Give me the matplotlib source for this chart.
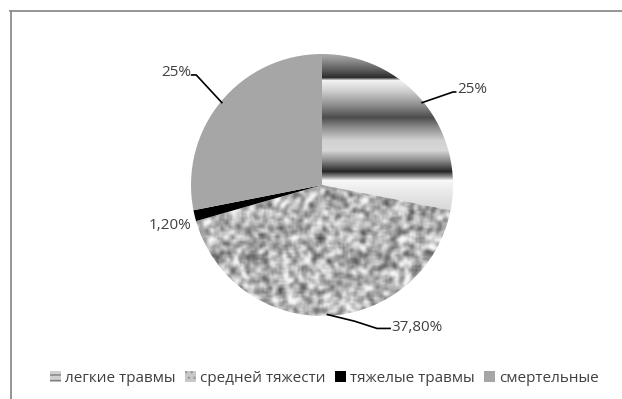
import matplotlib
matplotlib.use("Agg")
import matplotlib.pyplot as plt
import numpy as np
from matplotlib.patches import Patch
from matplotlib.lines import Line2D

# data
categories = ["легкие травмы", "средней тяжести", "тяжелые травмы", "смертельные"]
values = [25.0, 37.8, 1.2, 25.0]
value_labels = ["25%", "37,80%", "1,20%", "25%"]

plt.rcParams["font.family"] = ["Open Sans", "DejaVu Sans"]
TXT = "#404040"
FS = 11

W, H = 622, 399
fig = plt.figure(figsize=(W / 100, H / 100), dpi=100)

# chart frame (only top / left visible in the crop)
fig.add_artist(Line2D([10.5 / W, 10.5 / W], [0, 1 - 10.5 / H], transform=fig.transFigure,
                      color="#8c8c8c", lw=1.3))
fig.add_artist(Line2D([10 / W, 1], [1 - 10.5 / H, 1 - 10.5 / H], transform=fig.transFigure,
                      color="#8c8c8c", lw=1.3))

cx, cy, r = 322, 185, 131
ax = fig.add_axes([(cx - r) / W, (H - cy - r) / H, 2 * r / W, 2 * r / H])
ax.set_axis_off()

wedges, _ = ax.pie(values, startangle=90, counterclock=False, radius=1.0,
                   colors=["none", "none", "#000000", "#a6a6a6"],
                   wedgeprops=dict(linewidth=0))

# metallic horizontal stripes for first slice (pixel rows from top of image)
ypx = np.array([50, 58, 70, 77, 80, 90, 105, 117, 127, 140, 150, 160, 171, 176, 180, 195, 215])
gv = np.array([0.72, 0.60, 0.35, 0.18, 0.95, 0.82, 0.55, 0.30, 0.55, 0.82, 0.84, 0.55, 0.15, 0.55, 0.97, 0.90, 0.82])
rows = np.arange(cy - r, cy + r)
prof = np.interp(rows, ypx, gv)
stripe = np.tile(prof[:, None], (1, 2 * r))
im0 = ax.imshow(stripe, cmap="gray", vmin=0, vmax=1, extent=[-1, 1, -1, 1],
                origin="upper", aspect="auto", interpolation="bilinear")
im0.set_clip_path(wedges[0])

# granite texture for second slice
rng = np.random.default_rng(3)
n = 140
noise = rng.random((n, n))
sm = noise.copy()
for dx in (-1, 0, 1):
    for dy in (-1, 0, 1):
        if dx or dy:
            sm += np.roll(np.roll(noise, dx, 0), dy, 1)
sm /= 9
sm = (sm - sm.mean()) / sm.std()
granite = np.clip(0.70 + 0.14 * sm, 0.25, 0.97)
im1 = ax.imshow(granite, cmap="gray", vmin=0, vmax=1, extent=[-1, 1, -1, 1],
                aspect="auto", interpolation="bicubic")
im1.set_clip_path(wedges[1])

ax.set_xlim(-1, 1)
ax.set_ylim(-1, 1)

# value labels
def mid(w):
    return np.deg2rad((w.theta1 + w.theta2) / 2)

a = mid(wedges[0])
p = (np.cos(a) * 0.99, np.sin(a) * 0.99)
ax.plot([p[0], 1.0, 1.02], [p[1], 0.71, 0.71], color="black", lw=1.2, clip_on=False)
ax.text(1.03, 0.73, value_labels[0], ha="left", va="center", fontsize=FS, color=TXT)

a = mid(wedges[1])
p = (np.cos(a) * 0.99, np.sin(a) * 0.99)
xs = [p[0], 0.25, 0.42, 0.52]
ys = [p[1], -1.04, -1.095, -1.095]
ax.plot(xs, ys, color="black", lw=1.2, clip_on=False)
ax.text(0.53, -1.09, value_labels[1], ha="left", va="center", fontsize=FS, color=TXT)

ax.text(-0.995, -0.31, value_labels[2], ha="right", va="center", fontsize=FS, color=TXT)

a = mid(wedges[3])
p = (np.cos(a) * 0.99, np.sin(a) * 0.99)
ax.plot([p[0], -0.96, -0.995], [p[1], 0.84, 0.84], color="black", lw=1.2, clip_on=False)
ax.text(-1.0, 0.86, value_labels[3], ha="right", va="center", fontsize=FS, color=TXT)

handles = [
    Patch(facecolor="#d0d0d0", edgecolor="#808080", hatch="---", lw=0, label=categories[0]),
    Patch(facecolor="#c8c8c8", edgecolor="#9a9a9a", hatch="...", lw=0, label=categories[1]),
    Patch(facecolor="#000000", label=categories[2]),
    Patch(facecolor="#a6a6a6", label=categories[3]),
]
fig.legend(handles=handles, loc="center", bbox_to_anchor=(0.522, 1 - 378 / H), ncol=4,
           frameon=False, fontsize=FS, labelcolor=TXT, handlelength=0.7, handleheight=0.7,
           handletextpad=0.3, columnspacing=0.6)

fig.savefig("out.png", dpi=100)
